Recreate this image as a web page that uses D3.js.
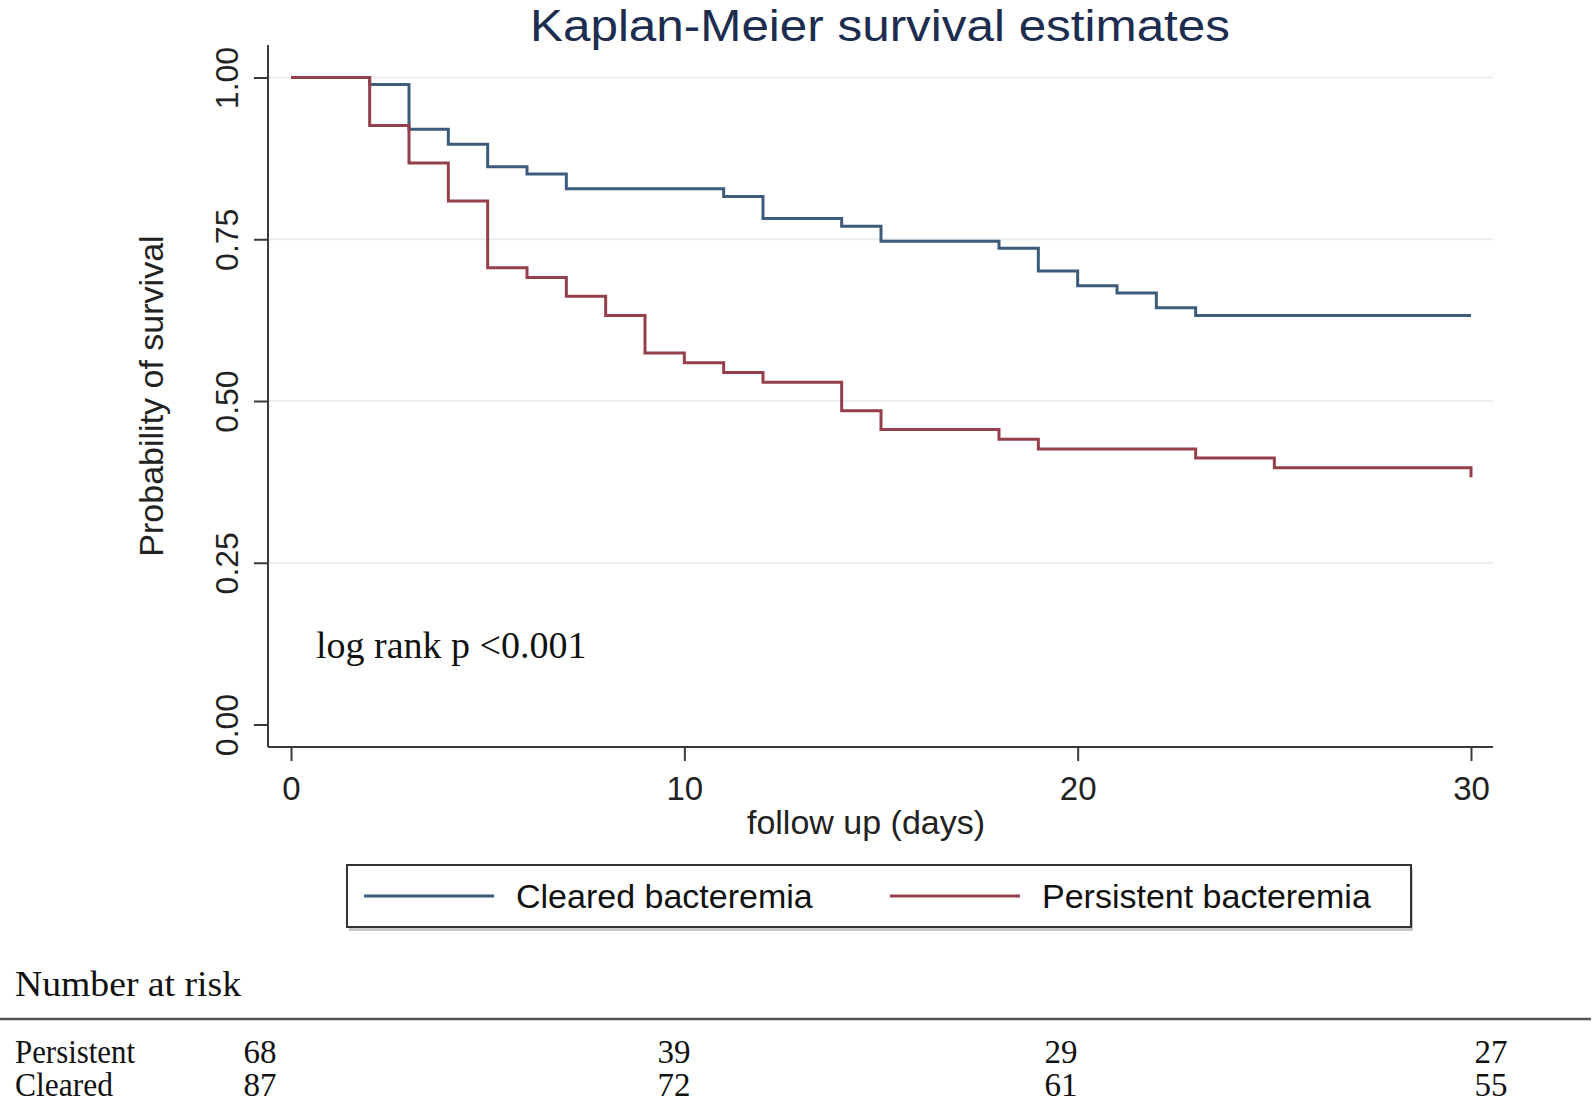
<!DOCTYPE html>
<html>
<head>
<meta charset="utf-8">
<script src="https://cdn.jsdelivr.net/npm/d3@7"></script>
<style>
  html, body { margin: 0; padding: 0; background: #ffffff; }
  svg { display: block; }
</style>
</head>
<body>
<svg id="chart" width="1593" height="1104"></svg>
<script>
// ---------------- data ----------------
const clearedTime = [0, 2, 3, 4, 5, 6, 7, 11, 12, 14, 15, 18, 19, 20, 21, 22, 23, 30];
const clearedSurv = [1.000, 0.989, 0.920, 0.897, 0.862, 0.851, 0.828, 0.816, 0.782, 0.770, 0.747, 0.736, 0.701, 0.678, 0.667, 0.644, 0.632, 0.632];
const persistentTime = [0, 2, 3, 4, 5, 6, 7, 8, 9, 10, 11, 12, 14, 15, 18, 19, 23, 25, 30];
const persistentSurv = [1.000, 0.926, 0.868, 0.809, 0.706, 0.691, 0.662, 0.632, 0.574, 0.559, 0.544, 0.529, 0.485, 0.456, 0.441, 0.426, 0.412, 0.397, 0.382];
const xTicks = [0, 10, 20, 30];
const yTicks = [0, 0.25, 0.5, 0.75, 1];
const gridTicks = [0.25, 0.5, 0.75, 1];
const riskRowLabels = ["Persistent", "Cleared"];
const persistentRisk = [68, 39, 29, 27];
const clearedRisk = [87, 72, 61, 55];
const seriesNames = ["Cleared bacteremia", "Persistent bacteremia"];

// ---------------- layout ----------------
const svg = d3.select("#chart");
const blue = "#3d5b7a";
const red = "#953f4b";
const axisCol = "#3a3a3a";
const sans = "'Liberation Sans', Arial, sans-serif";
const serif = "'Liberation Serif', 'Times New Roman', serif";

const x = d3.scaleLinear().domain([0, 30]).range([291, 1471]);
const y = d3.scaleLinear().domain([0, 1]).range([724.5, 77.5]);
const axisX = 268, axisY = 747, plotRight = 1493, plotTop = 45;

// title
svg.append("text")
  .attr("x", 880).attr("y", 41)
  .attr("text-anchor", "middle")
  .attr("font-family", sans).attr("font-size", 45)
  .attr("textLength", 700).attr("lengthAdjust", "spacingAndGlyphs")
  .attr("fill", "#1c2d4f")
  .text("Kaplan-Meier survival estimates");

// gridlines
svg.append("g").selectAll("line").data(gridTicks).join("line")
  .attr("x1", axisX + 1).attr("x2", plotRight)
  .attr("y1", d => y(d)).attr("y2", d => y(d))
  .attr("stroke", "#e7edf1").attr("stroke-width", 2);

// y axis
const yAxis = d3.axisLeft(y).tickValues(yTicks).tickFormat(d3.format(".2f")).tickSize(14).tickSizeOuter(0);
const gy = svg.append("g").attr("transform", `translate(${axisX},0)`).call(yAxis);
gy.select(".domain").remove();
gy.append("line").attr("x1", 0).attr("x2", 0).attr("y1", plotTop).attr("y2", axisY)
  .attr("stroke", axisCol).attr("stroke-width", 2);
gy.selectAll(".tick line").attr("stroke", axisCol).attr("stroke-width", 2);
gy.selectAll(".tick text")
  .attr("font-family", sans).attr("font-size", 32).attr("fill", "#222")
  .attr("text-anchor", "middle")
  .attr("x", 0).attr("dy", 0)
  .attr("transform", "translate(-30,0) rotate(-90)");

// x axis
const xAxis = d3.axisBottom(x).tickValues(xTicks).tickFormat(d3.format("d")).tickSize(14).tickSizeOuter(0);
const gx = svg.append("g").attr("transform", `translate(0,${axisY})`).call(xAxis);
gx.select(".domain").remove();
gx.append("line").attr("x1", axisX).attr("x2", plotRight).attr("y1", 0).attr("y2", 0)
  .attr("stroke", axisCol).attr("stroke-width", 2);
gx.selectAll(".tick line").attr("stroke", axisCol).attr("stroke-width", 2);
gx.selectAll(".tick text")
  .attr("font-family", sans).attr("font-size", 33).attr("fill", "#222")
  .attr("y", 53).attr("dy", 0);

// axis titles
svg.append("text")
  .attr("transform", "translate(163,396) rotate(-90)")
  .attr("text-anchor", "middle")
  .attr("font-family", sans).attr("font-size", 34).attr("fill", "#222")
  .text("Probability of survival");
svg.append("text")
  .attr("x", 866).attr("y", 834)
  .attr("text-anchor", "middle")
  .attr("font-family", sans).attr("font-size", 34).attr("fill", "#222")
  .text("follow up (days)");

// curves
const line = d3.line().x(d => x(d[0])).y(d => y(d[1])).curve(d3.curveStepAfter);
const clearedData = d3.zip(clearedTime, clearedSurv);
const persistentData = d3.zip(persistentTime, persistentSurv);
svg.append("path").datum(clearedData).attr("d", line)
  .attr("fill", "none").attr("stroke", blue).attr("stroke-width", 3);
svg.append("path").datum(persistentData).attr("d", line)
  .attr("fill", "none").attr("stroke", red).attr("stroke-width", 3);

// annotation
svg.append("text")
  .attr("x", 316).attr("y", 658)
  .attr("font-family", serif).attr("font-size", 38).attr("fill", "#111")
  .text("log rank p <0.001");

// legend
const lg = svg.append("g");
lg.append("rect").attr("x", 349).attr("y", 869).attr("width", 1064).attr("height", 62)
  .attr("fill", "#c8c8c8");
lg.append("rect").attr("x", 347).attr("y", 865).attr("width", 1064).attr("height", 62)
  .attr("fill", "#ffffff").attr("stroke", "#333").attr("stroke-width", 2);
const legendItems = [
  { name: seriesNames[0], color: blue, x1: 364, x2: 494, tx: 516 },
  { name: seriesNames[1], color: red, x1: 890, x2: 1020, tx: 1042 }
];
legendItems.forEach(it => {
  lg.append("line").attr("x1", it.x1).attr("x2", it.x2).attr("y1", 896).attr("y2", 896)
    .attr("stroke", it.color).attr("stroke-width", 3);
  lg.append("text").attr("x", it.tx).attr("y", 908)
    .attr("font-family", sans).attr("font-size", 34).attr("fill", "#111")
    .text(it.name);
});

// number at risk table
svg.append("text").attr("x", 15).attr("y", 996)
  .attr("font-family", serif).attr("font-size", 36).attr("fill", "#111")
  .attr("textLength", 226).attr("lengthAdjust", "spacingAndGlyphs")
  .text("Number at risk");
svg.append("line").attr("x1", 0).attr("x2", 1591).attr("y1", 1019).attr("y2", 1019)
  .attr("stroke", "#555").attr("stroke-width", 2.5);

const colX = [260, 674, 1061, 1491];
const rows = [
  { label: riskRowLabels[0], vals: persistentRisk, yb: 1063, lw: 120 },
  { label: riskRowLabels[1], vals: clearedRisk, yb: 1096, lw: 98 }
];
rows.forEach(r => {
  svg.append("text").attr("x", 15).attr("y", r.yb)
    .attr("font-family", serif).attr("font-size", 33).attr("fill", "#111")
    .attr("textLength", r.lw).attr("lengthAdjust", "spacingAndGlyphs")
    .text(r.label);
  svg.append("g").selectAll("text").data(r.vals).join("text")
    .attr("x", (d, i) => colX[i]).attr("y", r.yb)
    .attr("text-anchor", "middle")
    .attr("font-family", serif).attr("font-size", 33).attr("fill", "#111")
    .text(d => d);
});
</script>
</body>
</html>
